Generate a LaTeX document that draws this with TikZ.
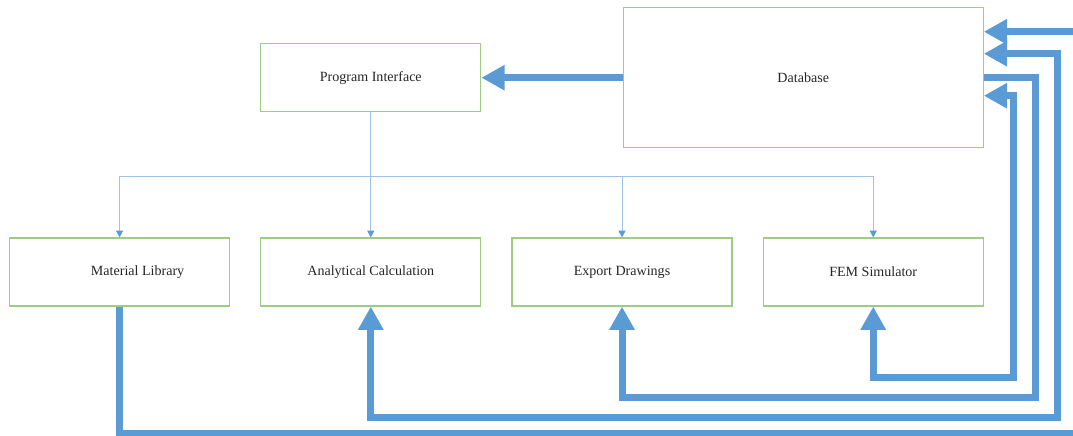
\documentclass[tikz,border=0pt]{standalone}
\usepackage{fontspec}
\setmainfont{Liberation Serif}
\usetikzlibrary{positioning,arrows.meta}
\definecolor{steel}{HTML}{5B9BD5}
\definecolor{leaf}{HTML}{9FCB82}
\definecolor{sky}{HTML}{9DC3E6}

\begin{document}
\begin{tikzpicture}[
  box/.style={draw=leaf, line width=0.9pt,
              minimum width=5.5cm, minimum height=1.7cm,
              font=\fontsize{10}{12}\selectfont, text=black!85},
  wire/.style={draw=sky, line width=0.7pt},
  link/.style={wire, -{Triangle[length=0.17cm, width=0.18cm, color=steel]}},
  pipe/.style={draw=steel, line width=5pt},
  >={Triangle[length=0.58cm, width=0.6cm]},
  node distance=0.75cm
]
\useasboundingbox (-2.99,-4.1) rectangle (23.84,6.8);

% --- Modules ---
\node[box] (matlib) at (0,0) {\hspace*{0.9cm}Material Library};
\node[box, right=of matlib] (analyt) {Analytical Calculation};
\node[box, right=of analyt] (export) {Export Drawings};
\node[box, right=of export] (femsim) {FEM Simulator};

% --- Interface and database ---
\node[box, above=3.125cm of analyt] (pi) {Program Interface};
\node[box, minimum width=9.0cm, minimum height=3.5cm, anchor=east] (db) at (femsim.east |- pi) {Database};

% --- Interface to modules ---
\coordinate[below=1.6cm of pi.south] (bus);
\draw[wire] (pi.south) -- (bus);
\draw[wire] (bus -| matlib) -- (bus -| femsim);
\foreach \m in {matlib, analyt, export, femsim}
  \draw[link] (bus -| \m) -- (\m.north);

% --- Data flow ---
\draw[pipe, ->] (db) -- (pi);
\draw[pipe, ->] (matlib.south) -- ++(0,-3.175) -| ([xshift=2.5cm, yshift=1.15cm]db.east) -- ([yshift=1.15cm]db.east);
\draw[pipe, <->] ([yshift=0.6cm]db.east) -- ++(1.85,0) |- ([yshift=-2.775cm]analyt.south) -- (analyt.south);
\draw[pipe, ->] (db.east) -- ++(1.3,0) |- ([yshift=-2.275cm]export.south) -- (export.south);
\draw[pipe, <->] ([yshift=-0.45cm]db.east) -- ++(0.75,0) |- ([yshift=-1.775cm]femsim.south) -- (femsim.south);

\end{tikzpicture}
\end{document}
